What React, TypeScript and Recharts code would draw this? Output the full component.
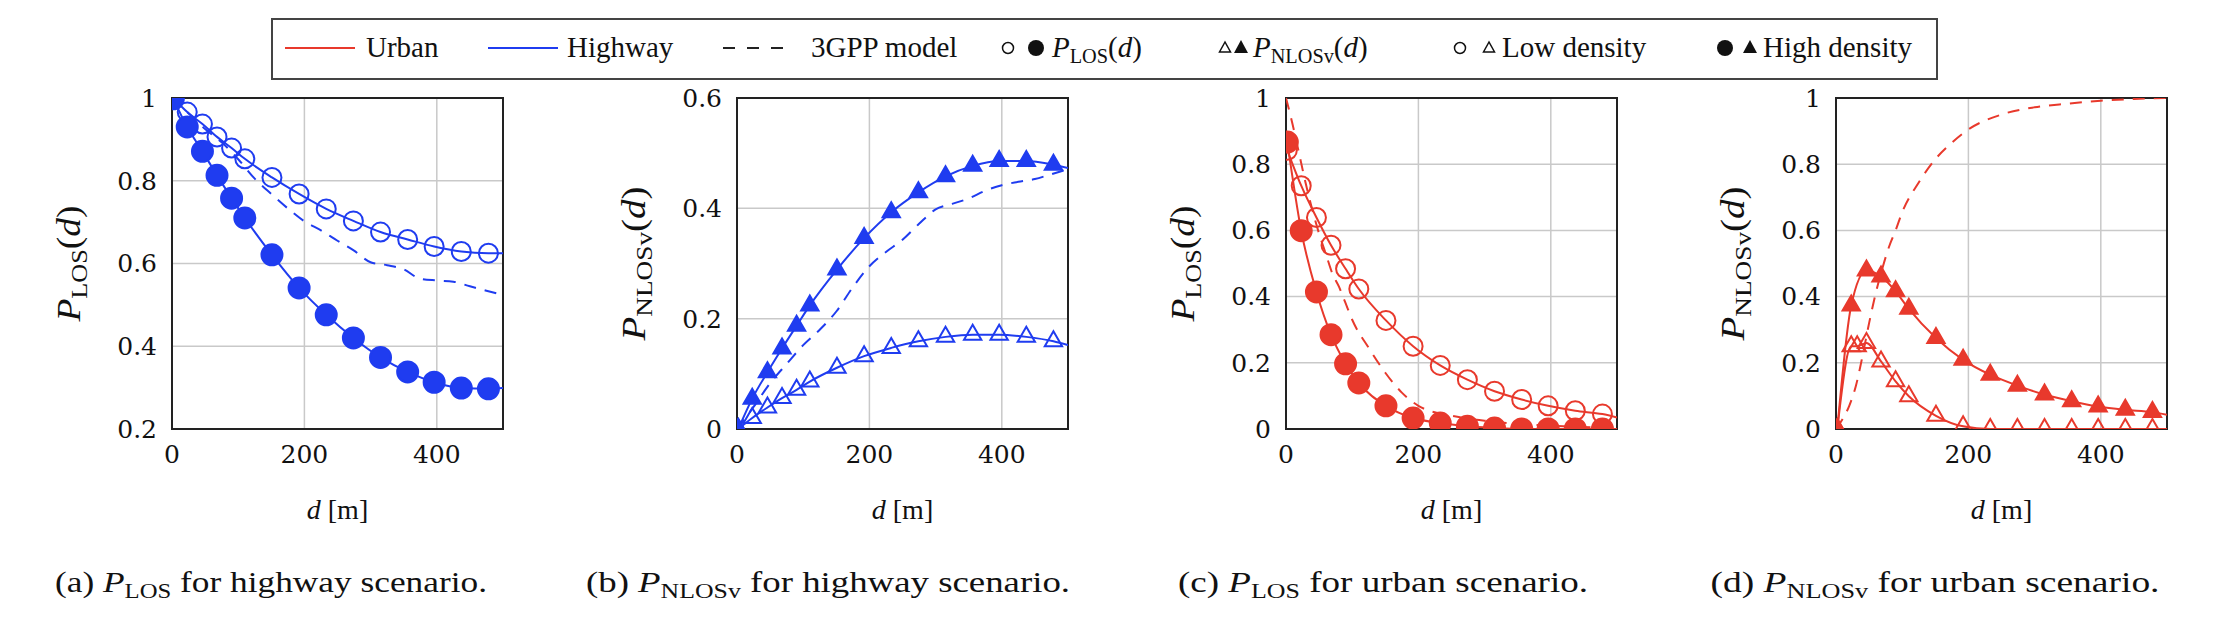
import React from "react";
import { CartesianGrid, Line, LineChart, ReferenceArea, XAxis, YAxis } from "recharts";

const BLUE = "#1f3cf0";
const RED = "#e8392c";
const GRID = "#c9c9c9";

// distances (m) of the simulated points
const distances = [2, 23, 46, 68, 90, 110, 151, 192, 233, 274, 315, 356, 396, 437, 478];

// (a) highway, P_LOS
const hwLosLow = [1.0, 0.966, 0.937, 0.906, 0.879, 0.853, 0.808, 0.768, 0.732, 0.703, 0.676, 0.658, 0.641, 0.629, 0.625];
const hwLosLowEnd = 0.625;
const hwLosHigh = [0.998, 0.93, 0.871, 0.813, 0.758, 0.71, 0.621, 0.541, 0.476, 0.42, 0.373, 0.338, 0.313, 0.299, 0.297];
const hwLosHighEnd = 0.299;

// (b) highway, P_NLOSv
const hwNlosLow = [0, 0.02, 0.039, 0.056, 0.071, 0.086, 0.111, 0.132, 0.147, 0.159, 0.167, 0.171, 0.171, 0.167, 0.159];
const hwNlosLowEnd = 0.152;
const hwNlosHigh = [0, 0.055, 0.103, 0.146, 0.187, 0.224, 0.289, 0.346, 0.393, 0.429, 0.458, 0.477, 0.486, 0.486, 0.479];
const hwNlosHighEnd = 0.473;

// (c) urban, P_LOS
const urbLosLow = [0.842, 0.735, 0.639, 0.555, 0.484, 0.423, 0.328, 0.25, 0.192, 0.149, 0.114, 0.089, 0.07, 0.055, 0.045];
const urbLosLowEnd = 0.035;
const urbLosHigh = [0.867, 0.599, 0.414, 0.285, 0.197, 0.139, 0.07, 0.033, 0.018, 0.008, 0.003, 0, 0, 0, 0];
const urbLosHighEnd = 0;

// (d) urban, P_NLOSv (low density has one extra point near the peak)
const urbNlosLowDist = [2, 23, 32, 46, 68, 90, 110, 151, 192, 233, 274, 315, 356, 396, 437, 478];
const urbNlosLow = [0, 0.25, 0.25, 0.26, 0.204, 0.144, 0.099, 0.04, 0.008, 0, 0, 0, 0, 0, 0, 0];
const urbNlosLowEnd = 0;
const urbNlosHigh = [0, 0.373, 0.479, 0.461, 0.416, 0.363, 0.275, 0.209, 0.164, 0.131, 0.104, 0.084, 0.068, 0.058, 0.051];
const urbNlosHighEnd = 0.043;

// 3GPP model curves
const modelDHighway = [0, 25, 50, 75, 100, 125, 150, 175, 200, 225, 250, 275, 300, 325, 350, 375, 400, 425, 450, 475, 500];
const hwLosModel = [1.0, 0.963, 0.925, 0.893, 0.852, 0.805, 0.768, 0.733, 0.702, 0.68, 0.655, 0.631, 0.603, 0.596, 0.586, 0.563, 0.559, 0.556, 0.545, 0.534, 0.524];
const hwNlosModel = [0, 0.04, 0.083, 0.118, 0.152, 0.18, 0.213, 0.257, 0.295, 0.321, 0.343, 0.372, 0.398, 0.408, 0.418, 0.432, 0.442, 0.448, 0.453, 0.462, 0.471];
const modelDUrban = [0, 10, 20, 30, 40, 50, 60, 70, 80, 90, 100, 125, 150, 175, 200, 250, 300, 350, 400, 450, 500];
const urbLosModel = [1.0, 0.92, 0.83, 0.74, 0.66, 0.59, 0.53, 0.47, 0.43, 0.38, 0.33, 0.245, 0.17, 0.11, 0.07, 0.04, 0.025, 0.015, 0.01, 0.006, 0.004];
const urbNlosModel = [0, 0.03, 0.07, 0.13, 0.22, 0.32, 0.41, 0.485, 0.55, 0.6, 0.655, 0.745, 0.815, 0.865, 0.905, 0.95, 0.972, 0.983, 0.992, 0.997, 1.0];

const xTicks = [0, 200, 400];

type Pt = { d: number; v: number; mark: boolean };

const sim = (vals: number[], end: number, ds: number[] = distances): Pt[] => [
  ...ds.map((d, i) => ({ d, v: vals[i], mark: true })),
  { d: 500, v: end, mark: false },
];
const model = (ds: number[], vals: number[]): Pt[] => ds.map((d, i) => ({ d, v: vals[i], mark: false }));

const SERIF = "Liberation Serif, Times New Roman, serif";
const TICK_FONT = "DejaVu Serif, serif";

const PLOT = 331;
const PAD_L = 160;
const PAD_T = 20;

// P_sub(d), or P_sub followed by a plain tail
function PSpans({ sub, fs, tail }: { sub: string; fs: number; tail?: string }) {
  return (
    <>
      <tspan fontStyle="italic">P</tspan>
      <tspan fontSize={fs * 0.7} dy={fs * 0.2}>{sub}</tspan>
      {tail === undefined ? (
        <>
          <tspan dy={-fs * 0.2}>(</tspan>
          <tspan fontStyle="italic">d</tspan>
          <tspan>)</tspan>
        </>
      ) : (
        <tspan dy={-fs * 0.2}>{tail}</tspan>
      )}
    </>
  );
}

function markerDot(shape: "circle" | "triangle", filled: boolean, color: string) {
  return (props: any) => {
    const { cx, cy, payload, index } = props;
    if (!payload?.mark || cx == null || cy == null) return <g key={`n${index}`} />;
    if (shape === "circle") {
      return <circle key={`m${index}`} cx={cx} cy={cy} r={filled ? 10.5 : 9.5} fill={filled ? color : "none"} stroke={color} strokeWidth={2} />;
    }
    const r = 10;
    const pts = `${cx},${cy - r} ${cx - 0.866 * r},${cy + 0.5 * r} ${cx + 0.866 * r},${cy + 0.5 * r}`;
    return <polygon key={`m${index}`} points={pts} fill={filled ? color : "none"} stroke={color} strokeWidth={2} />;
  };
}

type PanelProps = {
  left: number;
  yDomain: [number, number];
  yTicks: number[];
  sub: string;
  color: string;
  shape: "circle" | "triangle";
  low: Pt[];
  high: Pt[];
  model: Pt[];
};

function Panel({ left, yDomain, yTicks, sub, color, shape, low, high, model }: PanelProps) {
  const labelLen = sub === "LOS" ? 116 : 154;
  return (
    <div style={{ position: "absolute", left: left - PAD_L, top: 98 - PAD_T }}>
      <LineChart width={PAD_L + PLOT + 20} height={PAD_T + PLOT + 100} margin={{ top: PAD_T, right: 20, left: PAD_L - 60, bottom: 0 }}>
        <CartesianGrid stroke={GRID} strokeWidth={1.5} />
        <XAxis
          dataKey="d"
          type="number"
          domain={[0, 500]}
          ticks={xTicks}
          allowDataOverflow
          height={100}
          axisLine={false}
          tickLine={false}
          tickSize={0}
          tickMargin={16}
          tick={{ fill: "#111", fontFamily: TICK_FONT, fontSize: 25 }}
          label={(p: any) => {
            const vb = p.viewBox;
            return (
              <text x={vb.x + vb.width / 2} y={vb.y + 90} textAnchor="middle" style={{ fontFamily: SERIF }} fontSize={28} fill="#111">
                <tspan fontStyle="italic">d</tspan>
                <tspan> [m]</tspan>
              </text>
            );
          }}
        />
        <YAxis
          type="number"
          domain={yDomain}
          ticks={yTicks}
          allowDataOverflow
          width={60}
          axisLine={false}
          tickLine={false}
          tickSize={0}
          tickMargin={15}
          tickFormatter={(v: number) => String(v)}
          tick={{ fill: "#111", fontFamily: TICK_FONT, fontSize: 25 }}
          label={(p: any) => {
            const vb = p.viewBox;
            const cx = vb.x + vb.width - 103;
            const cy = vb.y + vb.height / 2;
            return (
              <text x={cx} y={cy} transform={`rotate(-90 ${cx} ${cy})`} dy={11} textAnchor="middle" textLength={labelLen} lengthAdjust="spacingAndGlyphs" style={{ fontFamily: SERIF }} fontSize={33} fill="#111">
                <PSpans sub={sub} fs={33} />
              </text>
            );
          }}
        />
        <Line data={model} dataKey="v" type="monotone" stroke={color} strokeWidth={2} strokeDasharray="12 9" dot={false} activeDot={false} isAnimationActive={false} />
        <Line data={low} dataKey="v" type="monotone" stroke={color} strokeWidth={2} dot={markerDot(shape, false, color)} activeDot={false} isAnimationActive={false} />
        <Line data={high} dataKey="v" type="monotone" stroke={color} strokeWidth={2} dot={markerDot(shape, true, color)} activeDot={false} isAnimationActive={false} />
        <ReferenceArea x1={0} x2={500} y1={yDomain[0]} y2={yDomain[1]} fill="none" stroke="#222" strokeWidth={2} ifOverflow="visible" />
      </LineChart>
    </div>
  );
}

const captions = [
  { x: 271, w: 432, label: "(a) ", sub: "LOS", rest: " for highway scenario." },
  { x: 828, w: 484, label: "(b) ", sub: "NLOSv", rest: " for highway scenario." },
  { x: 1383, w: 410, label: "(c) ", sub: "LOS", rest: " for urban scenario." },
  { x: 1935, w: 449, label: "(d) ", sub: "NLOSv", rest: " for urban scenario." },
];

function Overlay() {
  const fs = 29;
  const ly = 57;
  const mid = 48;
  const t = { fontFamily: SERIF };
  return (
    <svg width={2213} height={619} style={{ position: "absolute", left: 0, top: 0 }}>
      <rect x={272} y={19} width={1665} height={60} fill="#fff" stroke="#444" strokeWidth={2} />
      <line x1={285} x2={355} y1={mid} y2={mid} stroke={RED} strokeWidth={2} />
      <text x={366} y={ly} style={t} fontSize={fs} fill="#111">Urban</text>
      <line x1={488} x2={558} y1={mid} y2={mid} stroke={BLUE} strokeWidth={2} />
      <text x={567} y={ly} style={t} fontSize={fs} fill="#111">Highway</text>
      <line x1={723} x2={790} y1={mid} y2={mid} stroke="#222" strokeWidth={2} strokeDasharray="12 12" />
      <text x={811} y={ly} style={t} fontSize={fs} fill="#111">3GPP model</text>
      <circle cx={1008} cy={mid} r={5.5} fill="none" stroke="#111" strokeWidth={1.5} />
      <circle cx={1036} cy={mid} r={8} fill="#111" />
      <text x={1052} y={ly} style={t} fontSize={fs} fill="#111"><PSpans sub="LOS" fs={fs} /></text>
      <polygon points="1225,42 1219.5,52 1230.5,52" fill="none" stroke="#111" strokeWidth={1.5} />
      <polygon points="1241,40 1234,53 1248,53" fill="#111" />
      <text x={1253} y={ly} style={t} fontSize={fs} fill="#111"><PSpans sub="NLOSv" fs={fs} /></text>
      <circle cx={1460} cy={mid} r={5.5} fill="none" stroke="#111" strokeWidth={1.5} />
      <polygon points="1489,42 1483.5,52 1494.5,52" fill="none" stroke="#111" strokeWidth={1.5} />
      <text x={1502} y={ly} style={t} fontSize={fs} fill="#111">Low density</text>
      <circle cx={1725} cy={mid} r={8} fill="#111" />
      <polygon points="1750,40 1743,53 1757,53" fill="#111" />
      <text x={1763} y={ly} style={t} fontSize={fs} fill="#111">High density</text>
      {captions.map((c) => (
        <text key={c.label} x={c.x} y={592} textAnchor="middle" textLength={c.w} lengthAdjust="spacingAndGlyphs" style={t} fontSize={30} fill="#111">
          <tspan>{c.label}</tspan>
          <PSpans sub={c.sub} fs={30} tail={c.rest} />
        </text>
      ))}
    </svg>
  );
}

export default function App() {
  return (
    <div style={{ position: "absolute", left: 0, top: 0, width: 2213, height: 619, background: "#fff", overflow: "hidden" }}>
      <Overlay />
      <Panel left={172} yDomain={[0.2, 1]} yTicks={[0.2, 0.4, 0.6, 0.8, 1]} sub="LOS" color={BLUE} shape="circle"
        low={sim(hwLosLow, hwLosLowEnd)} high={sim(hwLosHigh, hwLosHighEnd)} model={model(modelDHighway, hwLosModel)} />
      <Panel left={737} yDomain={[0, 0.6]} yTicks={[0, 0.2, 0.4, 0.6]} sub="NLOSv" color={BLUE} shape="triangle"
        low={sim(hwNlosLow, hwNlosLowEnd)} high={sim(hwNlosHigh, hwNlosHighEnd)} model={model(modelDHighway, hwNlosModel)} />
      <Panel left={1286} yDomain={[0, 1]} yTicks={[0, 0.2, 0.4, 0.6, 0.8, 1]} sub="LOS" color={RED} shape="circle"
        low={sim(urbLosLow, urbLosLowEnd)} high={sim(urbLosHigh, urbLosHighEnd)} model={model(modelDUrban, urbLosModel)} />
      <Panel left={1836} yDomain={[0, 1]} yTicks={[0, 0.2, 0.4, 0.6, 0.8, 1]} sub="NLOSv" color={RED} shape="triangle"
        low={sim(urbNlosLow, urbNlosLowEnd, urbNlosLowDist)} high={sim(urbNlosHigh, urbNlosHighEnd)} model={model(modelDUrban, urbNlosModel)} />
    </div>
  );
}
